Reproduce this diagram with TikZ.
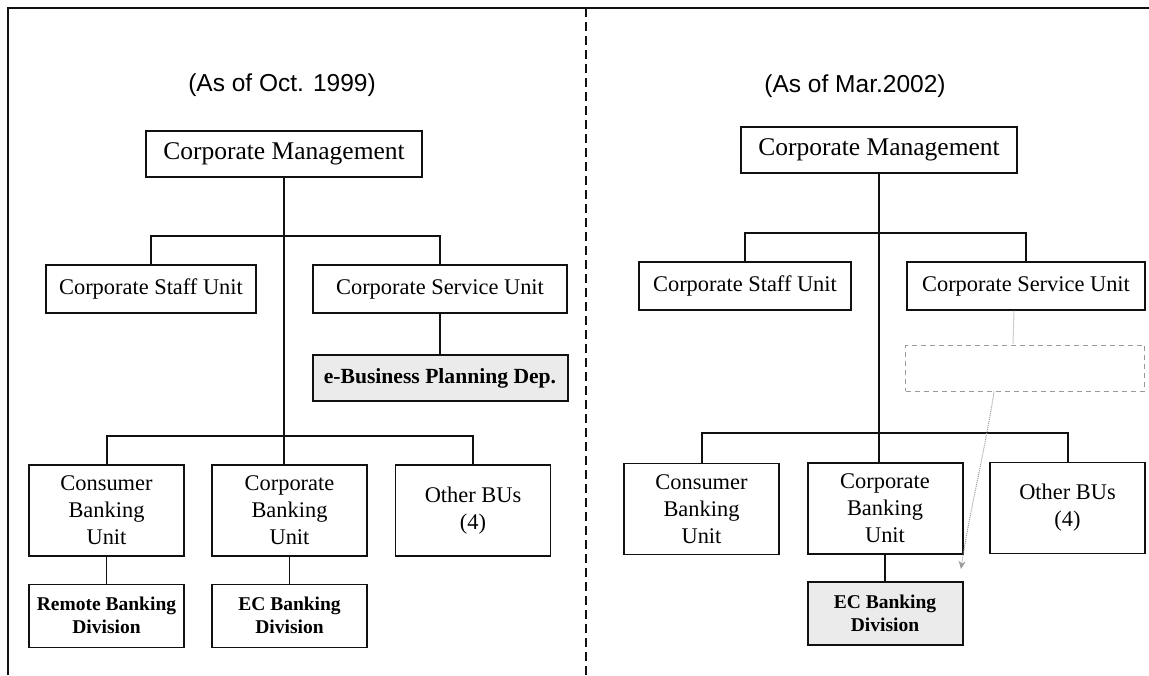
\documentclass[tikz,border=0pt]{standalone}
\usepackage{fontspec}
\setmainfont{Liberation Serif}
\newfontfamily\arialfont{Liberation Sans}
\usetikzlibrary{arrows.meta,positioning}
\definecolor{ink}{HTML}{111111}
\definecolor{speck}{HTML}{EBEBEB}
\definecolor{fog}{HTML}{9A9A9A}
\newcommand{\unitfont}{\fontsize{22.4}{26.9}\selectfont}
\newcommand{\mgmtfont}{\fontsize{25.5}{30}\selectfont}
\newcommand{\divfont}{\fontsize{19.5}{22.7}\selectfont\bfseries}
\newcommand{\datefont}{\arialfont\fontsize{24.5}{29}\selectfont}
\tikzset{
  unitbox/.style={rectangle, draw=ink, line width=1.1pt, align=center, inner sep=0pt,
                  font=\unitfont, minimum height=48pt},
  mgmtbox/.style={unitbox, line width=2pt, font=\mgmtfont, minimum width=276pt, minimum height=46pt},
  keybox/.style={unitbox, line width=2pt},
  bubox/.style={unitbox, minimum width=155pt, minimum height=91pt},
  divbox/.style={unitbox, font=\divfont, minimum width=155pt, minimum height=63pt},
  newbox/.style={divbox, line width=2pt, fill=speck},
  ghost/.style={rectangle, draw=fog, dash pattern=on 5pt off 4pt, line width=1pt,
                minimum width=239pt, minimum height=46pt},
  datelbl/.style={font=\datefont},
  link/.style={draw=ink, line width=1.3pt},
  bus/.style={draw=ink, line width=2pt},
  ghostflow/.style={draw=fog, densely dotted, line width=1pt},
  border/.style={draw=ink, line width=1.6pt},
  divider/.style={draw=ink, line width=2pt, dash pattern=on 9pt off 5pt}
}
\begin{document}
\begin{tikzpicture}[x=1pt, y=-1pt]
 \useasboundingbox (0,0) rectangle (1149,675);
 \draw[border] (8,675) -- (8,8) -- (1149,8);
 \draw[divider] (586,8) -- (586,675);
 % before: Oct. 1999
 \node[datelbl] (d1) at (282,85) {(As of Oct. 1999)};
 \node[mgmtbox] (cm1) at (284,153.5) {Corporate Management};
 \node[unitbox, minimum width=210pt] (csf1) at (151,289) {Corporate Staff Unit};
 \node[keybox, minimum width=254pt] (csv1) at (440,289) {Corporate Service Unit};
 \node[newbox, font=\bfseries\fontsize{21.6}{26}\selectfont, minimum width=255pt,
       minimum height=46pt] (ebp1) at (440,378) {e-Business Planning Dep.};
 \node[bubox] (cbu1) at (106.5,510.5) {Consumer\\Banking\\Unit};
 \node[bubox] (kbu1) at (289.5,510.5) {Corporate\\Banking\\Unit};
 \node[bubox] (obu1) at (473,510.5) {Other BUs\\(4)};
 \node[divbox, below=27pt of cbu1] (rbd1) {Remote Banking\\Division};
 \node[divbox, below=27pt of kbu1] (ecd1) {EC Banking\\Division};
 \coordinate (b1) at (284,236);
 \coordinate (b2) at (284,436);
 \draw[link] (cm1) -- (cm1 |- kbu1.north);
 \draw[bus] (csf1.north) |- (b1) -| (csv1.north);
 \draw[link] (csv1) -- (ebp1);
 \draw[bus] (cbu1.north) |- (b2) -| (obu1.north);
 \draw[link] (cbu1) -- (rbd1); \draw[link] (kbu1) -- (ecd1);
 % after: Mar. 2002
 \node[datelbl] (d2) at (855,86) {(As of Mar.2002)};
 \node[mgmtbox] (cm2) at (879,150) {Corporate Management};
 \node[unitbox, minimum width=212pt] (csf2) at (745,286) {Corporate Staff Unit};
 \node[unitbox, minimum width=238pt] (csv2) at (1026,286) {Corporate Service Unit};
 \node[ghost] (gst2) at (1025,368) {};
 \node[bubox] (cbu2) at (701.5,509) {Consumer\\Banking\\Unit};
 \node[bubox, line width=2pt] (kbu2) at (885,508) {Corporate\\Banking\\Unit};
 \node[bubox] (obu2) at (1067.5,508) {Other BUs\\(4)};
 \node[newbox, below=26pt of kbu2] (ecd2) {EC Banking\\Division};
 \coordinate (b3) at (879,233);
 \coordinate (b4) at (879,433);
 \coordinate (tip) at (961,569);
 \draw[link] (cm2) -- (cm2 |- kbu2.north);
 \draw[bus] (csf2.north) |- (b3) -| (csv2.north);
 \draw[bus] (cbu2.north) |- (b4) -| (obu2.north);
 \draw[link] (kbu2) -- (ecd2);
 \draw[ghostflow] ([xshift=-12pt]csv2.south) -- ([xshift=-12pt]gst2.north);
 \draw[ghostflow, -{Stealth[length=8pt, width=7pt]}] ([xshift=-31pt]gst2.south)
   .. controls (987,440) and (968,520) .. (tip);
\end{tikzpicture}
\end{document}
